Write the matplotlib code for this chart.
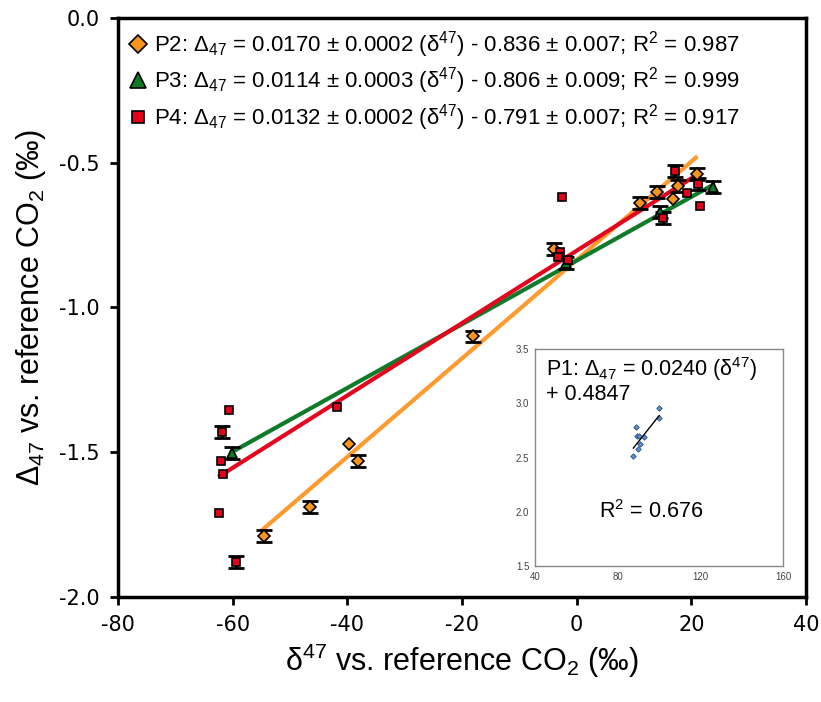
import numpy as np
import matplotlib
matplotlib.use("Agg")
import matplotlib.pyplot as plt

plt.rcParams["font.family"] = ["Liberation Sans", "DejaVu Sans"]
plt.rcParams["mathtext.fontset"] = "custom"
plt.rcParams["mathtext.rm"] = "Liberation Sans"
plt.rcParams["mathtext.it"] = "Liberation Sans:italic"
plt.rcParams["axes.unicode_minus"] = False

# ---------------- DATA ----------------
# P2 (orange diamonds)
p2_x = [-54.5, -46.5, -39.7, -38.1, -18.1, -3.95, 11.05, 14.0, 16.8, 17.7, 21.0]
p2_y = [-1.79, -1.689, -1.471, -1.530, -1.10, -0.798, -0.639, -0.601, -0.625, -0.580, -0.539]
p2_err = [0.02, 0.02, 0.0, 0.02, 0.02, 0.02, 0.02, 0.02, 0.0, 0.02, 0.02]

# P3 (green triangles)
p3_x = [-60.1, -1.9, 14.5, 23.8]
p3_y = [-1.503, -0.846, -0.670, -0.584]
p3_err = [0.02, 0.02, 0.02, 0.02]

# P4 (red squares)
p4_x = [-60.6, -61.9, -62.0, -61.7, -62.4, -59.4, -41.8, -2.6, -2.9, -3.25, -1.5,
        15.1, 17.2, 21.2, 19.2, 21.5]
p4_y = [-1.354, -1.430, -1.530, -1.575, -1.710, -1.879, -1.344, -0.618, -0.810, -0.826, -0.836,
        -0.691, -0.528, -0.573, -0.604, -0.649]
p4_err = [0.0, 0.02, 0.0, 0.0, 0.0, 0.02, 0.0, 0.0, 0.0, 0.0, 0.0,
          0.02, 0.02, 0.02, 0.0, 0.0]

# regression lines as drawn: slope, intercept, x range
fit_slope = {"P2": 0.0170, "P3": 0.0110, "P4": 0.0125}
fit_icept = {"P2": -0.836, "P3": -0.838, "P4": -0.804}
fit_range = {"P2": (-54.7, 20.8), "P3": (-60.1, 23.8), "P4": (-62.2, 21.0)}

legend_labels = [
    r"P2: $\Delta_{47}$ = 0.0170 ± 0.0002 (δ$^{47}$) - 0.836 ± 0.007; R$^2$ = 0.987",
    r"P3: $\Delta_{47}$ = 0.0114 ± 0.0003 (δ$^{47}$) - 0.806 ± 0.009; R$^2$ = 0.999",
    r"P4: $\Delta_{47}$ = 0.0132 ± 0.0002 (δ$^{47}$) - 0.791 ± 0.007; R$^2$ = 0.917",
]

# P1 inset
p1_x = [87.3, 89.0, 89.2, 90.3, 90.6, 89.8, 92.9, 100.0, 100.0]
p1_y = [2.511, 2.784, 2.701, 2.701, 2.622, 2.581, 2.686, 2.959, 2.867]
p1_slope = 0.0240
p1_icept = 0.4847

# ---------------- STYLE ----------------
orange = "#f7941d"
green = "#0b7a22"
red = "#e2001a"
line_orange = "#ff9a2e"
line_green = "#0f7a2a"
line_red = "#e3061f"

fig = plt.figure(figsize=(8.21, 7.02), dpi=100)
ax = fig.add_axes([0.1437, 0.1496, 0.8380, 0.8248])

series = [
    ("P2", p2_x, p2_y, p2_err, "D", orange, line_orange, 6.0),
    ("P3", p3_x, p3_y, p3_err, "^", green, line_green, 7.0),
    ("P4", p4_x, p4_y, p4_err, "s", red, line_red, 5.2),
]

# fit lines
for name, xs, ys, errs, mk, col, lcol, ms in series:
    x0, x1 = fit_range[name]
    lx = np.array([x0, x1])
    ax.plot(lx, fit_slope[name] * lx + fit_icept[name], color=lcol, lw=3, zorder=2)

# points + error bars
handles = []
for name, xs, ys, errs, mk, col, lcol, ms in series:
    xs = np.array(xs); ys = np.array(ys); errs = np.array(errs)
    has = errs > 0
    ax.errorbar(xs[has], ys[has], yerr=errs[has], fmt="none", ecolor="black",
                elinewidth=2, capsize=5.5, capthick=2, zorder=3)
    h, = ax.plot(xs, ys, linestyle="none", marker=mk, color=col, markersize=ms,
                 markeredgecolor="black", markeredgewidth=1.2, zorder=4)
    handles.append(h)

ax.set_xlim(-80, 40)
ax.set_ylim(-2.0, 0.0)
ax.set_xticks(np.arange(-80, 41, 20))
ax.set_yticks(np.arange(-2.0, 0.01, 0.5))
ax.set_xticklabels([str(v) for v in range(-80, 41, 20)], family="DejaVu Sans", fontsize=15)
ax.set_yticklabels(["%.1f" % v for v in np.arange(-2.0, 0.01, 0.5)], family="DejaVu Sans", fontsize=15)
ax.tick_params(direction="out", length=6, width=2, pad=7)
for sp in ax.spines.values():
    sp.set_linewidth(2.5)

ax.set_xlabel(r"δ$^{47}$ vs. reference CO$_2$ (‰)", fontsize=22, labelpad=5)
ax.set_ylabel(r"$\Delta_{47}$ vs. reference CO$_2$ (‰)", fontsize=22, labelpad=8)

ax.legend(handles, legend_labels, loc="upper left", frameon=False, fontsize=16,
          handlelength=0.8, handletextpad=0.3, borderaxespad=0.2, labelspacing=0.25,
          borderpad=0.3, markerscale=1.6)

# ---------------- INSET ----------------
axin = fig.add_axes([0.6516, 0.1937, 0.3021, 0.3091])
axin.plot(p1_x, p1_y, linestyle="none", marker="D", markersize=2.8, color="#5b8fd0",
          markeredgecolor="#2d4f80", markeredgewidth=0.6)
ix = np.array([87.6, 100.1])
axin.plot(ix, p1_slope * ix + p1_icept, color="black", lw=1)
axin.set_xlim(40, 160)
axin.set_ylim(1.5, 3.5)
axin.set_xticks([40, 80, 120, 160])
axin.set_yticks([1.5, 2.0, 2.5, 3.0, 3.5])
axin.set_yticklabels(["1.5", "2.0", "2.5", "3.0", "3.5"])
axin.tick_params(labelsize=7, length=0, pad=4, colors="#444444")
for sp in axin.spines.values():
    sp.set_color("#888888")
    sp.set_linewidth(1)
axin.text(0.045, 0.97, r"P1: $\Delta_{47}$ = 0.0240 (δ$^{47}$)", transform=axin.transAxes,
          fontsize=15.5, va="top", ha="left")
axin.text(0.045, 0.84, "+ 0.4847", transform=axin.transAxes,
          fontsize=15.5, va="top", ha="left")
axin.text(0.47, 0.25, r"R$^2$ = 0.676", transform=axin.transAxes,
          fontsize=15.5, va="center", ha="center")

fig.savefig("out.png", dpi=100)
